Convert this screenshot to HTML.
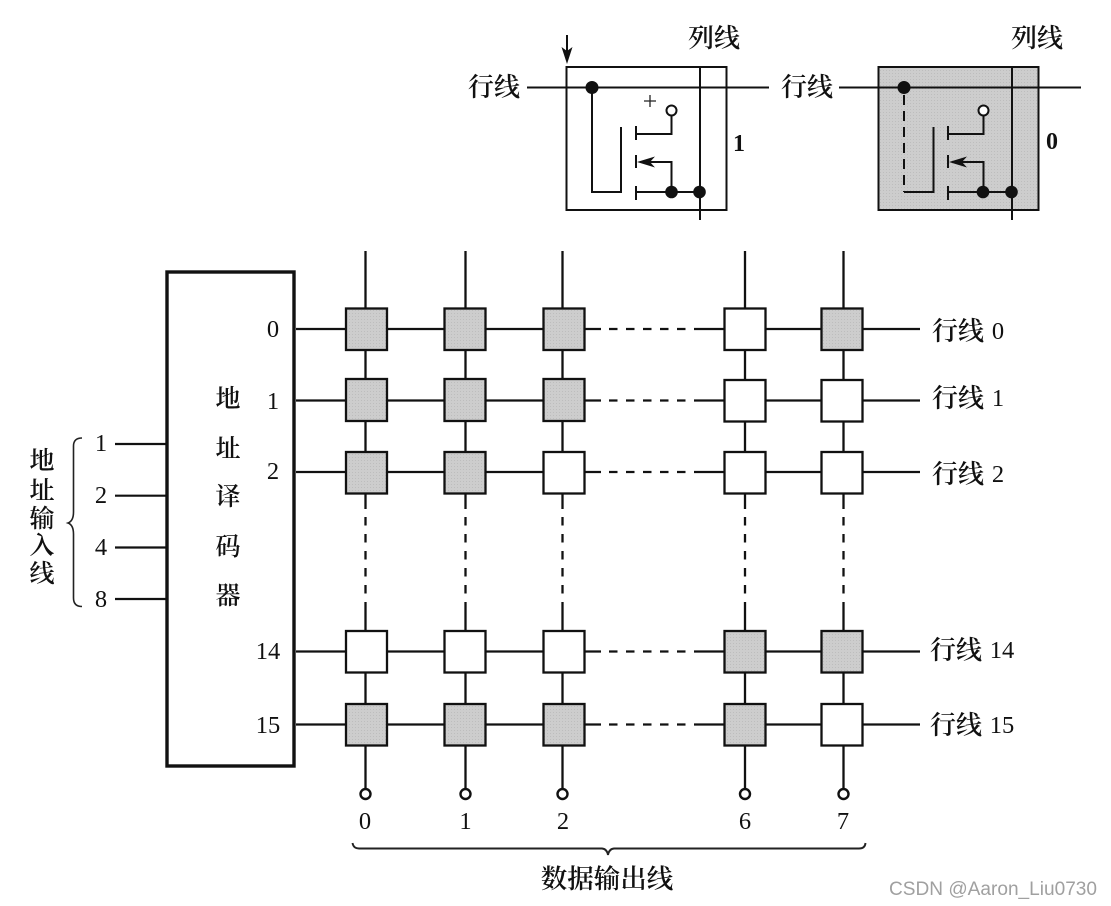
<!DOCTYPE html>
<html><head><meta charset="utf-8"><style>
html,body{margin:0;padding:0;background:#fff;width:1111px;height:906px;overflow:hidden}
svg{display:block}
.cn{font-family:"Liberation Serif","Noto Serif CJK SC",serif;fill:#111;text-anchor:middle;font-weight:600}
.n{font-family:"Liberation Serif",serif;fill:#111;text-anchor:middle;font-size:24.5px}
.l{stroke:#111;stroke-width:2.2;fill:none}
.t{stroke:#111;stroke-width:2;fill:none}
.c{stroke:#111;stroke-width:2.3}
</style></head><body>
<svg width="1111" height="906" viewBox="0 0 1111 906" xmlns="http://www.w3.org/2000/svg">
<defs>
<pattern id="g" width="3" height="3" patternUnits="userSpaceOnUse"><rect width="3" height="3" fill="#cdcdcd"/><rect x="1" y="1" width="1" height="1" fill="#bdbdbd"/></pattern>
</defs>

<!-- top cell 1 -->
<rect x="566.5" y="67" width="160" height="143" class="t" style="fill:#fff"/>
<path class="t" d="M527 87.5H769M700 67V220"/>
<path class="t" d="M592 88V192H621V127"/>
<path class="t" d="M636 126V140M636 155V168M636 186V200"/>
<path class="t" d="M636 134H671.5V115M640 162H671.5V192M636 192H700"/>
<path d="M637 162L655 156.500L650 162L655 167.500Z" fill="#111"/>
<circle cx="592" cy="87.5" r="6.5" fill="#111"/>
<circle cx="671.5" cy="192" r="6.3" fill="#111"/>
<circle cx="699.5" cy="192" r="6.3" fill="#111"/>
<circle cx="671.5" cy="110.5" r="5" fill="#fff" stroke="#111" stroke-width="2"/>
<path d="M650 95V107M644 101H656" stroke="#222" stroke-width="1.3"/>
<path class="t" d="M567 35V56"/><path d="M567 64L561.5 47L567 51L572.5 47Z" fill="#111"/>
<text class="cn" x="494" y="96" font-size="26">行线</text>
<text class="cn" x="714" y="47" font-size="26">列线</text>
<text x="739" y="151" font-family="Liberation Serif,serif" font-weight="bold" font-size="24" text-anchor="middle" fill="#111">1</text>

<!-- top cell 2 -->
<rect x="878.5" y="67" width="160" height="143" fill="url(#g)" stroke="#111" stroke-width="2"/>
<path class="t" d="M839 87.5H1081M1012 67V220"/>
<path class="t" d="M904 95V192" stroke-dasharray="10 6"/>
<path class="t" d="M904 192H933.5V127"/>
<path class="t" d="M948 126V140M948 155V168M948 186V200"/>
<path class="t" d="M948 134H983.5V115M952 162H983.5V192M948 192H1012"/>
<path d="M949 162L967 156.500L962 162L967 167.500Z" fill="#111"/>
<circle cx="904" cy="87.5" r="6.5" fill="#111"/>
<circle cx="983" cy="192" r="6.3" fill="#111"/>
<circle cx="1011.5" cy="192" r="6.3" fill="#111"/>
<circle cx="983.5" cy="110.5" r="5" fill="#fff" stroke="#111" stroke-width="2"/>
<text class="cn" x="807" y="96" font-size="26">行线</text>
<text class="cn" x="1037" y="47" font-size="26">列线</text>
<text x="1052" y="149" font-family="Liberation Serif,serif" font-weight="bold" font-size="24" text-anchor="middle" fill="#111">0</text>

<!-- decoder -->
<rect x="167" y="272" width="127" height="494" fill="#fff" stroke="#111" stroke-width="3.4"/>
<g class="cn" font-size="25">
<text x="228" y="407">地</text><text x="228" y="457">址</text><text x="228" y="505">译</text><text x="228" y="555">码</text><text x="228" y="604">器</text>
</g>
<g class="cn" font-size="25">
<text x="42" y="469">地</text><text x="42" y="499">址</text><text x="42" y="527">输</text><text x="42" y="554">入</text><text x="42" y="582">线</text>
</g>
<path class="l" d="M115 444H166M115 495.7H166M115 547.5H166M115 599H166"/>
<g class="n">
<text x="101" y="451">1</text><text x="101" y="503">2</text><text x="101" y="555">4</text><text x="101" y="607">8</text>
<text x="273" y="337">0</text><text x="273" y="409">1</text><text x="273" y="479">2</text><text x="268" y="659">14</text><text x="268" y="733">15</text>
<text x="365" y="829">0</text><text x="465.500" y="829">1</text><text x="563" y="829">2</text><text x="745" y="829">6</text><text x="843" y="829">7</text>
</g>
<path d="M82 438Q73.500 438 73.500 446V512Q73.500 521 68 523Q73.500 525 73.500 534V598Q73.500 606.500 82 606.500" fill="none" stroke="#222" stroke-width="1.600"/>

<!-- row lines -->
<g class="c" fill="none">
<path d="M296 329H601M694 329H920"/><path d="M296 400.500H601M694 400.500H920"/><path d="M296 472H601M694 472H920"/><path d="M296 651.500H601M694 651.500H920"/><path d="M296 724.500H601M694 724.500H920"/>
<path d="M609 329H686M609 400.500H686M609 472H686M609 651.500H686M609 724.500H686" stroke-dasharray="8.500 8.500"/>
<!-- columns -->
<path d="M365.500 251V509M365.500 602V790"/>
<path d="M465.500 251V509M465.500 602V790"/>
<path d="M562.500 251V509M562.500 602V790"/>
<path d="M745 251V509M745 602V790"/>
<path d="M843.500 251V509M843.500 602V790"/>
<path d="M365.500 517V594M465.500 517V594M562.500 517V594M745 517V594M843.500 517V594" stroke-dasharray="8.500 8.500"/>
</g>

<!-- cells -->
<g stroke="#111" stroke-width="2.300">
<rect x="346" y="308.500" width="41" height="41.500" fill="url(#g)"/><rect x="444.500" y="308.500" width="41" height="41.500" fill="url(#g)"/><rect x="543.500" y="308.500" width="41" height="41.500" fill="url(#g)"/><rect x="724.500" y="308.500" width="41" height="41.500" fill="#fff"/><rect x="821.500" y="308.500" width="41" height="41.500" fill="url(#g)"/>
<rect x="346" y="379" width="41" height="42" fill="url(#g)"/><rect x="444.500" y="379" width="41" height="42" fill="url(#g)"/><rect x="543.500" y="379" width="41" height="42" fill="url(#g)"/><rect x="724.500" y="380" width="41" height="41.500" fill="#fff"/><rect x="821.500" y="380" width="41" height="41.500" fill="#fff"/>
<rect x="346" y="452" width="41" height="41.500" fill="url(#g)"/><rect x="444.500" y="452" width="41" height="41.500" fill="url(#g)"/><rect x="543.500" y="452" width="41" height="41.500" fill="#fff"/><rect x="724.500" y="452" width="41" height="41.500" fill="#fff"/><rect x="821.500" y="452" width="41" height="41.500" fill="#fff"/>
<rect x="346" y="631" width="41" height="41.500" fill="#fff"/><rect x="444.500" y="631" width="41" height="41.500" fill="#fff"/><rect x="543.500" y="631" width="41" height="41.500" fill="#fff"/><rect x="724.500" y="631" width="41" height="41.500" fill="url(#g)"/><rect x="821.500" y="631" width="41" height="41.500" fill="url(#g)"/>
<rect x="346" y="704" width="41" height="41.500" fill="url(#g)"/><rect x="444.500" y="704" width="41" height="41.500" fill="url(#g)"/><rect x="543.500" y="704" width="41" height="41.500" fill="url(#g)"/><rect x="724.500" y="704" width="41" height="41.500" fill="url(#g)"/><rect x="821.500" y="704" width="41" height="41.500" fill="#fff"/>
</g>

<!-- output circles -->
<g fill="#fff" stroke="#111" stroke-width="2.400">
<circle cx="365.500" cy="794" r="5"/><circle cx="465.500" cy="794" r="5"/><circle cx="562.500" cy="794" r="5"/><circle cx="745" cy="794" r="5"/><circle cx="843.500" cy="794" r="5"/>
</g>

<!-- row labels -->
<g>
<text class="cn" x="958" y="340" font-size="26">行线</text><text class="n" x="998" y="339">0</text>
<text class="cn" x="958" y="407" font-size="26">行线</text><text class="n" x="998" y="406">1</text>
<text class="cn" x="958" y="483" font-size="26">行线</text><text class="n" x="998" y="482">2</text>
<text class="cn" x="956" y="659" font-size="26">行线</text><text class="n" x="1002" y="658">14</text>
<text class="cn" x="956" y="734" font-size="26">行线</text><text class="n" x="1002" y="733">15</text>
</g>

<!-- bottom brace -->
<path d="M352.500 843Q353.500 848.500 359 848.500H602Q607 849 608 855Q609 849 614 848.500H859Q865 848.500 865.500 843" fill="none" stroke="#222" stroke-width="1.900"/>
<text class="cn" x="607" y="888" font-size="26.500">数据输出线</text>

<text x="889" y="895" font-family="Liberation Sans,sans-serif" font-size="19" fill="#a0a0a0" textLength="208" lengthAdjust="spacingAndGlyphs">CSDN @Aaron_Liu0730</text>
</svg>
</body></html>
